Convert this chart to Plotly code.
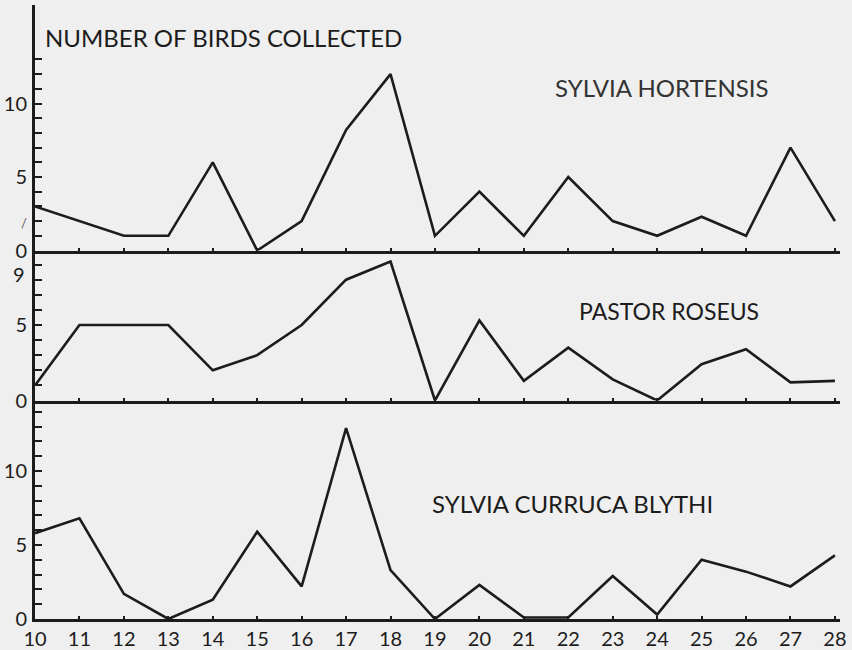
import plotly.graph_objects as go

# Daily counts of birds collected, days 10-28
days = list(range(10, 29))
day_labels = [str(d) for d in days]

sylvia_hortensis = [3, 2, 1, 1, 6, 0, 2, 8.2, 12, 1, 4, 1, 5, 2, 1, 2.3, 1, 7, 2]
pastor_roseus = [1, 5, 5, 5, 2, 3, 5, 8, 9.2, 0, 5.3, 1.3, 3.5, 1.4, 0, 2.4, 3.4, 1.2, 1.3]
sylvia_blythi = [5.8, 6.8, 1.7, 0, 1.3, 5.9, 2.2, 12.9, 3.3, 0, 2.3, 0.1, 0.1, 2.9, 0.3, 4.0, 3.2, 2.2, 4.3]

top_ticks = list(range(0, 14))
top_text = ["0", "", "<span style='font-size:13px;color:#555'>/</span>", "", "", "5", "", "", "", "", "10", "", "", ""]
mid_ticks = list(range(0, 10))
mid_text = ["0", "", "", "", "", "5", "", "", "", ""]
bot_ticks = list(range(0, 15))
bot_text = ["0", "", "", "", "", "5", "", "", "", "", "10", "", "", "", ""]

W, H = 852, 650
INK = "#1c1c1c"
BG = "#efefef"
FONT = "Lato"


def py(p):
    return 1 - p / H


def px(p):
    return p / W


fig = go.Figure()
for vals, xa, ya in [(sylvia_hortensis, "x", "y"), (pastor_roseus, "x2", "y2"), (sylvia_blythi, "x3", "y3")]:
    fig.add_trace(go.Scatter(x=days, y=vals, xaxis=xa, yaxis=ya, mode="lines",
                             line=dict(color=INK, width=2.6), hoverinfo="skip", showlegend=False))

x_dom = [px(35), px(840)]
x_rng = [10, 10 + (840 - 35) / 44.44]

xcommon = dict(domain=x_dom, range=x_rng, showline=True, linewidth=3, linecolor=INK,
               showgrid=False, zeroline=False, ticks="inside", ticklen=3, tickwidth=2,
               tickcolor=INK, tickvals=days, fixedrange=True, automargin=False)
ycommon = dict(showline=True, linewidth=3, linecolor=INK, showgrid=False, zeroline=False,
               ticks="inside", ticklen=7, tickwidth=2, tickcolor=INK, automargin=False,
               tickfont=dict(family=FONT, size=20, color=INK), ticklabelstandoff=1)

fig.update_layout(
    width=W, height=H,
    margin=dict(l=0, r=0, t=0, b=0),
    paper_bgcolor=BG, plot_bgcolor=BG,
    font=dict(family=FONT, color=INK),
    xaxis=dict(anchor="y", showticklabels=False, **xcommon),
    xaxis2=dict(anchor="y2", showticklabels=False, **xcommon),
    xaxis3=dict(anchor="y3", showticklabels=True, ticktext=day_labels, ticklabelstandoff=0,
                tickfont=dict(family=FONT, size=20, color=INK), **xcommon),
    yaxis=dict(anchor="x", domain=[py(250.5), py(5)], range=[0, 245.5 / 14.7],
               tickvals=top_ticks, ticktext=top_text, **ycommon),
    yaxis2=dict(anchor="x2", domain=[py(400.5), py(250.5)], range=[0, 150 / 15.1],
                tickvals=mid_ticks, ticktext=mid_text, **ycommon),
    yaxis3=dict(anchor="x3", domain=[py(619), py(400.5)], range=[0, 218.5 / 14.8],
                tickvals=bot_ticks, ticktext=bot_text, **ycommon),
)

# the "9" label of the middle panel sits just below its tick
fig.add_annotation(text="9", x=px(27), y=9, xref="paper", yref="y2", xanchor="right",
                   yanchor="middle", yshift=-9, showarrow=False,
                   font=dict(family=FONT, size=20, color=INK))

annots = [
    ("NUMBER OF BIRDS COLLECTED", 43, 37, 24, INK),
    ("SYLVIA HORTENSIS", 553, 87, 24, "#333333"),
    ("PASTOR ROSEUS", 577, 311, 23, INK),
    ("SYLVIA CURRUCA BLYTHI", 430, 503, 24, INK),
]
for text, x0, y0, size, col in annots:
    fig.add_annotation(text=text, x=px(x0), y=py(y0), xref="paper", yref="paper",
                       xanchor="left", yanchor="middle", showarrow=False,
                       font=dict(family=FONT, size=size, color=col))

fig.write_html("out.html")
